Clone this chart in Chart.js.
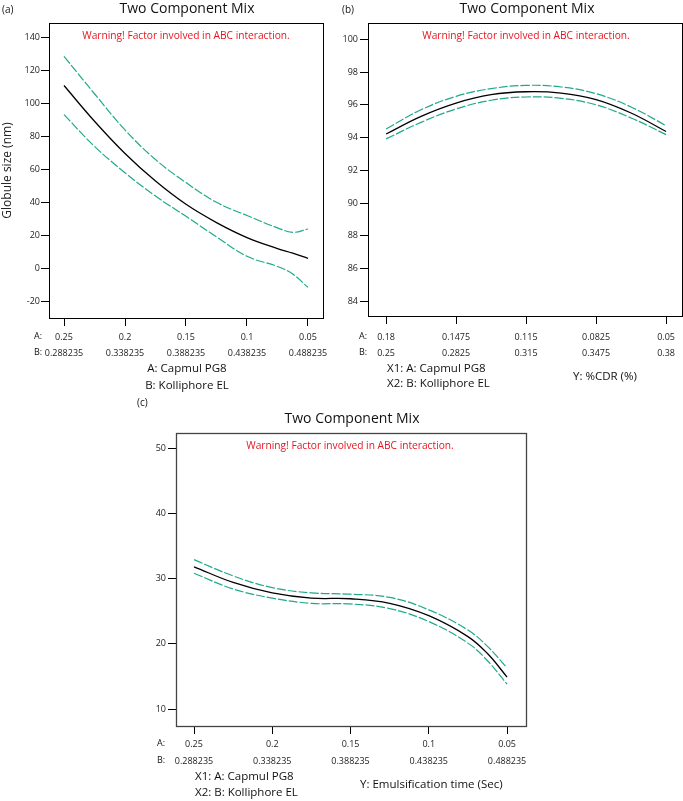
<!DOCTYPE html>
<html><head><meta charset="utf-8">
<script src="https://cdn.jsdelivr.net/npm/chart.js@4.4.1/dist/chart.umd.min.js"></script>
<style>
body{margin:0;background:#fff;width:683px;height:801px;position:relative;overflow:hidden}
canvas{position:absolute}
</style></head><body>
<canvas id="ca" width="340" height="395" style="left:0;top:0;width:340px;height:395px"></canvas>
<canvas id="cb" width="343" height="395" style="left:340px;top:0;width:343px;height:395px"></canvas>
<canvas id="cc" width="440" height="406" style="left:120px;top:395px;width:440px;height:406px"></canvas>
<script>
// ---- Panel (a): Globule size ----
const xA = [0.25, 0.225, 0.2, 0.175, 0.15, 0.125, 0.1, 0.075, 0.0625, 0.05];
const globuleMean  = [111, 89.3, 69.7, 52.9, 38.8, 27.7, 18.6, 11.9, 9.1, 5.9];
const globuleUpper = [128.7, 106, 84, 66, 52, 40, 32, 24.5, 21.8, 23.8];
const globuleLower = [93.3, 74, 58, 43.8, 31.5, 19, 7.2, 1, -3.6, -11.7];
const xTicksA = [0.25, 0.2, 0.15, 0.1, 0.05];
const aLabelsA = ['0.25', '0.2', '0.15', '0.1', '0.05'];
const bLabelsA = ['0.288235', '0.338235', '0.388235', '0.438235', '0.488235'];
const yTicksA = [-20, 0, 20, 40, 60, 80, 100, 120, 140];

// ---- Panel (b): %CDR ----
const xB = [0.18, 0.16375, 0.1475, 0.13125, 0.115, 0.09875, 0.0825, 0.06625, 0.05];
const cdrMean  = [94.22, 95.3, 96.11, 96.62, 96.8, 96.72, 96.32, 95.5, 94.37];
const cdrUpper = [94.53, 95.7, 96.52, 96.99, 97.19, 97.09, 96.68, 95.87, 94.73];
const cdrLower = [93.92, 94.93, 95.75, 96.28, 96.48, 96.4, 96.0, 95.2, 94.18];
const xTicksB = [0.18, 0.1475, 0.115, 0.0825, 0.05];
const aLabelsB = ['0.18', '0.1475', '0.115', '0.0825', '0.05'];
const bLabelsB = ['0.25', '0.2825', '0.315', '0.3475', '0.38'];
const yTicksB = [84, 86, 88, 90, 92, 94, 96, 98, 100];

// ---- Panel (c): Emulsification time ----
const xC = [0.25, 0.225, 0.2, 0.175, 0.15, 0.125, 0.1, 0.075, 0.0625, 0.05];
const emulMean  = [31.8, 29.4, 27.8, 27.0, 26.9, 26.2, 24.3, 21.1, 18.5, 14.9];
const emulUpper = [32.9, 30.4, 28.6, 27.8, 27.6, 27.1, 25.2, 22.1, 19.6, 16.3];
const emulLower = [30.8, 28.4, 27.0, 26.2, 26.1, 25.4, 23.4, 20.1, 17.4, 13.8];
const xTicksC = [0.25, 0.2, 0.15, 0.1, 0.05];
const aLabelsC = ['0.25', '0.2', '0.15', '0.1', '0.05'];
const bLabelsC = ['0.288235', '0.338235', '0.388235', '0.438235', '0.488235'];
const yTicksC = [10, 20, 30, 40, 50];

const FONT = "'Open Sans', 'Noto Sans', sans-serif";
const GREEN = '#1fa98a';
const RED = '#e8141e';

const textPlugin = {
  id: 'txt',
  afterDraw(chart, args, opts) {
    const ctx = chart.ctx, ca = chart.chartArea;
    ctx.save();
    ctx.strokeStyle = opts.boxColor || '#000';
    ctx.lineWidth = opts.boxWidth || 1;
    ctx.strokeRect(Math.round(ca.left) + 0.5, Math.round(ca.top) + 0.5,
      Math.round(ca.right - ca.left), Math.round(ca.bottom - ca.top));
    (opts.items || []).forEach(it => {
      ctx.font = (it.size || 12) + 'px ' + FONT;
      ctx.fillStyle = it.color || '#111';
      ctx.textAlign = it.align || 'left';
      ctx.textBaseline = 'middle';
      ctx.fillText(it.t, it.x, it.y);
    });
    ctx.restore();
  }
};

function pts(xs, ys) { return xs.map((x, i) => ({x: x, y: ys[i]})); }

function makeChart(id, xs, mean, up, lo, xTicks, aLab, bLab, yTicks, xr, yr, cfg) {
  const ds = (data, color, dash, w) => ({
    data: pts(xs, data), borderColor: color, borderWidth: w, borderDash: dash,
    pointRadius: 0, showLine: true, fill: false, tension: 0.4
  });
  return new Chart(document.getElementById(id), {
    type: 'scatter',
    data: { datasets: [ds(up, GREEN, [9, 2], 1.2), ds(lo, GREEN, [9, 2], 1.2), ds(mean, '#000', [], 1.3)] },
    options: {
      responsive: false, animation: false, devicePixelRatio: 1,
      layout: { padding: cfg.padding },
      plugins: { legend: { display: false }, tooltip: { enabled: false }, title: { display: false },
        txt: { items: cfg.items, boxColor: cfg.boxColor, boxWidth: cfg.boxWidth } },
      scales: {
        x: {
          type: 'linear', reverse: true, min: xr[0], max: xr[1],
          afterBuildTicks: s => { s.ticks = xTicks.map(v => ({value: v})); },
          afterFit: s => { s.height = cfg.xHeight; },
          ticks: {
            autoSkip: false, maxRotation: 0, color: '#222', padding: cfg.xPad,
            font: { family: FONT, size: 9, lineHeight: cfg.lineH },
            callback: (v, i) => [aLab[i], bLab[i]]
          },
          grid: { drawOnChartArea: false, drawTicks: true, tickLength: 8, color: '#000', tickWidth: 1 },
          border: { display: false }
        },
        y: {
          type: 'linear', min: yr[0], max: yr[1],
          afterBuildTicks: s => { s.ticks = yTicks.map(v => ({value: v})); },
          afterFit: s => { s.width = cfg.yWidth; },
          ticks: { color: '#222', padding: cfg.yPad, font: { family: FONT, size: 9 } },
          grid: { drawOnChartArea: false, drawTicks: true, tickLength: 8, color: '#000', tickWidth: 1 },
          border: { display: false },
          title: cfg.yTitle ? { display: true, text: cfg.yTitle, color: '#222', padding: 0,
            font: { family: FONT, size: 12 } } : { display: false }
        }
      }
    },
    plugins: [textPlugin]
  });
}

const warn = 'Warning! Factor involved in ABC interaction.';

makeChart('ca', xA, globuleMean, globuleUpper, globuleLower, xTicksA, aLabelsA, bLabelsA, yTicksA,
  [0.2623, 0.0377], [-30.3, 149], {
    padding: { left: 0, top: 23, right: 17, bottom: 0 }, yWidth: 49, xHeight: 77, xPad: 3, yPad: 1, lineH: 16 / 9,
    yTitle: 'Globule size (nm)',
    items: [
      { t: '(a)', x: 2, y: 10, size: 10 },
      { t: 'Two Component Mix', x: 187, y: 9, size: 14, align: 'center' },
      { t: warn, x: 186, y: 36, size: 10.2, color: RED, align: 'center' },
      { t: 'A:', x: 34, y: 336, size: 9 },
      { t: 'B:', x: 34, y: 352, size: 9 },
      { t: 'A: Capmul PG8', x: 187, y: 369, size: 11.5, align: 'center' },
      { t: 'B: Kolliphore EL', x: 187, y: 386, size: 11.5, align: 'center' }
    ]
  });

makeChart('cb', xB, cdrMean, cdrUpper, cdrLower, xTicksB, aLabelsB, bLabelsB, yTicksB,
  [0.1884, 0.0426], [83.1, 101], {
    padding: { left: 0, top: 23, right: 1, bottom: 0 }, yWidth: 28, xHeight: 79, xPad: 5, yPad: 2, lineH: 16 / 9,
    items: [
      { t: '(b)', x: 2, y: 10, size: 10 },
      { t: 'Two Component Mix', x: 187, y: 9, size: 14, align: 'center' },
      { t: warn, x: 186, y: 36, size: 10.2, color: RED, align: 'center' },
      { t: 'A:', x: 19, y: 336, size: 9 },
      { t: 'B:', x: 19, y: 352, size: 9 },
      { t: 'X1: A: Capmul PG8', x: 47, y: 369, size: 11.5 },
      { t: 'X2: B: Kolliphore EL', x: 47, y: 384, size: 11.5 },
      { t: 'Y: %CDR (%)', x: 233, y: 377, size: 11.5 }
    ]
  });

makeChart('cc', xC, emulMean, emulUpper, emulLower, xTicksC, aLabelsC, bLabelsC, yTicksC,
  [0.2615, 0.0379], [7.4, 52.3], {
    padding: { left: 0, top: 38, right: 34, bottom: 0 }, yWidth: 56, xHeight: 75, xPad: 2, yPad: 2, lineH: 17 / 9,
    boxColor: '#444', boxWidth: 1.3,
    items: [
      { t: '(c)', x: 17, y: 8, size: 10 },
      { t: 'Two Component Mix', x: 232, y: 24, size: 14, align: 'center' },
      { t: warn, x: 230, y: 51, size: 10.2, color: RED, align: 'center' },
      { t: 'A:', x: 37, y: 348, size: 9 },
      { t: 'B:', x: 37, y: 365, size: 9 },
      { t: 'X1: A: Capmul PG8', x: 75, y: 382, size: 11.5 },
      { t: 'X2: B: Kolliphore EL', x: 75, y: 398, size: 11.5 },
      { t: 'Y: Emulsification time (Sec)', x: 240, y: 390, size: 11.5 }
    ]
  });
</script>
</body></html>
